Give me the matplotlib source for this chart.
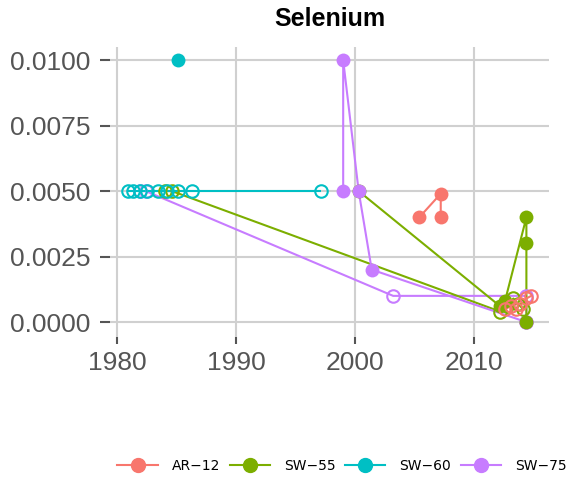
import matplotlib
matplotlib.use("Agg")
import matplotlib.pyplot as plt
from matplotlib.lines import Line2D

# data (year, concentration); filled = detected, open = non-detect
sites = ["AR\u221212", "SW\u221255", "SW\u221260", "SW\u221275"]
colors = ["#F8766D", "#7CAE00", "#00BFC4", "#C77CFF"]

ar12_det_x = [2005.4, 2007.2, 2007.2]
ar12_det_y = [0.004, 0.0049, 0.004]
ar12_nd_x = [2012.6, 2013.1, 2013.5, 2013.9, 2014.4, 2014.8]
ar12_nd_y = [0.0005, 0.0006, 0.0005, 0.0007, 0.0009, 0.001]

sw55_det_x = [2000.3, 2012.2, 2012.6, 2014.4, 2014.4, 2014.4]
sw55_det_y = [0.005, 0.0006, 0.0008, 0.004, 0.003, 0.0]
sw55_nd_x = [1984.0, 1984.6, 2012.2, 2012.8, 2013.3, 2013.7, 2014.1]
sw55_nd_y = [0.005, 0.005, 0.0004, 0.0006, 0.0009, 0.0007, 0.0005]

sw60_det_x = [1985.1]
sw60_det_y = [0.01]
sw60_nd_x = [1980.9, 1981.3, 1981.9, 1982.5, 1983.4, 1984.2, 1985.1, 1986.3, 1997.1]
sw60_nd_y = [0.005] * 9

sw75_det_x = [1999.0, 1999.0, 2000.3, 2001.4, 2014.4]
sw75_det_y = [0.005, 0.01, 0.005, 0.002, 0.0]
sw75_nd_x = [1981.9, 1982.4, 2003.2, 2014.4, 2014.4]
sw75_nd_y = [0.005, 0.005, 0.001, 0.001, 0.0]

x_ticks = [1980, 1990, 2000, 2010]
y_ticks = [0.0, 0.0025, 0.005, 0.0075, 0.01]

# (x, y, colour, filled, zorder)
groups = [
    (sw75_nd_x, sw75_nd_y, colors[3], False, 3),
    (sw55_det_x, sw55_det_y, colors[1], True, 4),
    (sw55_nd_x, sw55_nd_y, colors[1], False, 4),
    (sw75_det_x, sw75_det_y, colors[3], True, 5),
    (sw60_nd_x, sw60_nd_y, colors[2], False, 5),
    (sw60_det_x, sw60_det_y, colors[2], True, 5),
    (ar12_nd_x, ar12_nd_y, colors[0], False, 6),
    (ar12_det_x, ar12_det_y, colors[0], True, 6),
]

fig = plt.figure(figsize=(5.7, 4.8), dpi=100)
ax = fig.add_axes([110 / 570, 1 - 337 / 480, 439 / 570, 290 / 480])

gray = "#555555"


def draw_points(x, y, c, filled, z):
    if filled:
        ax.plot(x, y, linestyle="none", marker="o", markersize=10,
                color=c, markeredgewidth=0, zorder=z)
    else:
        ax.plot(x, y, linestyle="none", marker="o", markersize=9,
                markerfacecolor="none", markeredgecolor=c,
                markeredgewidth=1.5, zorder=z)


# lines first, then points (like geom_line + geom_point)
for x, y, c, filled, z in groups:
    ax.plot(x, y, color=c, linewidth=1.5, zorder=2, solid_capstyle="butt")
for x, y, c, filled, z in groups:
    if x is sw75_det_x:
        # last SW-75 point sits under the SW-55 one
        draw_points(x[:-1], y[:-1], c, filled, z)
        draw_points(x[-1:], y[-1:], c, filled, 3)
    else:
        draw_points(x, y, c, filled, z)

ax.set_xlim(1979.4, 2016.3)
ax.set_ylim(-0.00057, 0.0105)
ax.set_xticks(x_ticks)
ax.set_yticks(y_ticks)
ax.set_yticklabels(["%.4f" % v for v in y_ticks])
ax.grid(True, color="#D0D0D0", linewidth=1.5)
ax.set_axisbelow(True)
for s in ax.spines.values():
    s.set_visible(False)
ax.tick_params(axis="y", length=7, width=1.5, color=gray, labelcolor=gray,
               labelsize=19, pad=7)
ax.tick_params(axis="x", length=5, width=1.5, color=gray, labelcolor=gray,
               labelsize=19, pad=5)

fig.text(330 / 570, 1 - 19 / 480, "Selenium", ha="center", va="center",
         fontsize=18, fontweight="bold", family="Liberation Sans")

handles = [Line2D([0], [0], color=c, linewidth=1.5, marker="o", markersize=10)
           for c in colors]
fig.legend(handles, sites, loc="center", bbox_to_anchor=(342 / 570, 1 - 466 / 480),
           ncol=4, frameon=False, fontsize=10, handlelength=2.9,
           handletextpad=1.0, columnspacing=0.7)

for t in ax.get_xticklabels() + ax.get_yticklabels():
    t.set_family("Liberation Sans")

fig.savefig("out.png", dpi=100)
